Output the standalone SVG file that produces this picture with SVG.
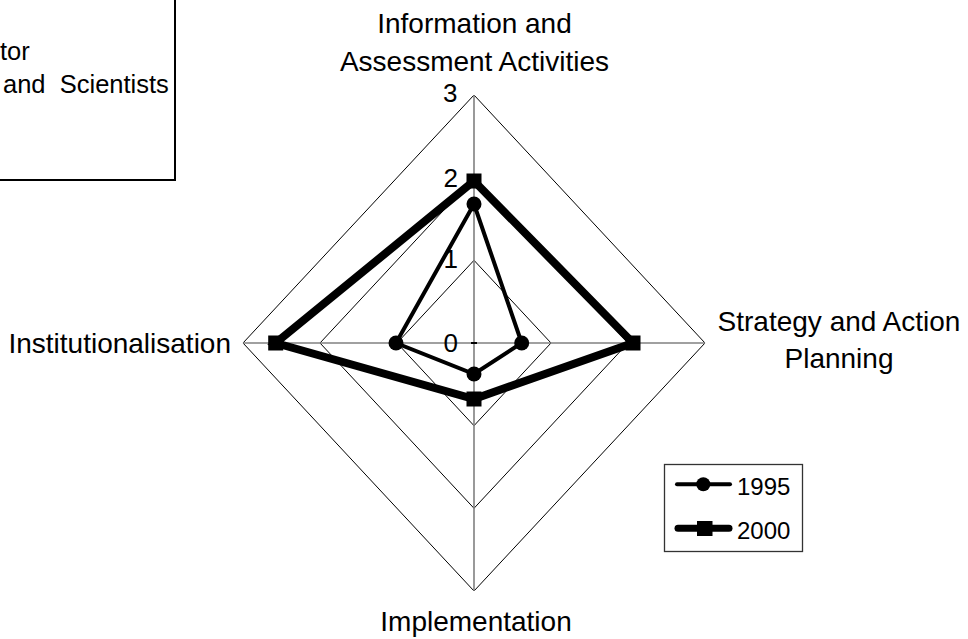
<svg xmlns="http://www.w3.org/2000/svg" width="968" height="639" viewBox="0 0 968 639">
<style>
text{font-family:"Liberation Sans",Arial,sans-serif;fill:#000}
.lbl{font-size:28px;text-anchor:middle}
.num{font-size:26px;text-anchor:end}
.ring{fill:none;stroke:#000;stroke-width:1}
.axis{stroke:#808080;stroke-width:1.6}
.s95{fill:none;stroke:#000;stroke-width:4;stroke-linejoin:miter}
.s00{fill:none;stroke:#000;stroke-width:8;stroke-linejoin:miter}
.mk{fill:#000}
</style>
<rect width="968" height="639" fill="#fff"/>
<g id="title-box">
<rect x="-10" y="-10" width="185" height="190" fill="none" stroke="#000" stroke-width="2"/>
<text x="0" y="60" style="font-size:25.5px">tor</text>
<text x="3" y="93" style="font-size:25.5px;white-space:pre" xml:space="preserve">and  Scientists</text>
</g>
<g id="grid">
<polygon class="ring" points="474,260.3 551,343 474,425.7 397,343"/>
<polygon class="ring" points="474,177.7 628,343 474,508.3 320,343"/>
<polygon class="ring" points="474,95 705,343 474,591 243,343"/>
<line class="axis" x1="474" y1="95" x2="474" y2="591"/>
<line class="axis" x1="243" y1="343" x2="705" y2="343"/>
<line x1="471" y1="343" x2="477" y2="343" stroke="#000" stroke-width="2"/>
</g>
<g id="scale">
<text class="num" x="457.5" y="102">3</text>
<text class="num" x="458" y="187">2</text>
<text class="num" x="458" y="268">1</text>
<text class="num" x="458" y="352">0</text>
</g>
<g id="axis-info"><text class="lbl" x="474.5" y="33">Information and</text><text class="lbl" x="474.5" y="71">Assessment Activities</text></g>
<g id="axis-strategy"><text class="lbl" x="839" y="331">Strategy and Action</text><text class="lbl" x="839" y="368">Planning</text></g>
<g id="axis-implementation"><text class="lbl" x="476" y="631">Implementation</text></g>
<g id="axis-institutionalisation"><text x="231" y="353" style="font-size:28px;text-anchor:end">Institutionalisation</text></g>
<g id="connectors">
<g id="series-1995">
<polygon class="s95" points="474,204 521.7,343 474,374 396,343"/>
<circle class="mk" cx="474" cy="204" r="7.5"/>
<circle class="mk" cx="521.7" cy="343" r="7.5"/>
<circle class="mk" cx="474" cy="374" r="7.5"/>
<circle class="mk" cx="396" cy="343" r="7.5"/>
</g>
<g id="series-2000">
<polygon class="s00" points="474,181 633,343 474,399 275.7,343"/>
<rect class="mk" x="466.5" y="173.5" width="15" height="15"/>
<rect class="mk" x="625.5" y="335.5" width="15" height="15"/>
<rect class="mk" x="466.5" y="391.5" width="15" height="15"/>
<rect class="mk" x="268.2" y="335.5" width="15" height="15"/>
</g>
</g>
<g id="legend">
<rect x="664.5" y="464.5" width="138" height="87" fill="#fff" stroke="#333" stroke-width="1.3"/>
<line x1="677" y1="484.3" x2="730" y2="484.3" stroke="#000" stroke-width="4" stroke-linecap="round"/>
<circle class="mk" cx="703.3" cy="484.3" r="7"/>
<text x="737" y="495" style="font-size:24px">1995</text>
<line x1="678" y1="528.3" x2="729" y2="528.3" stroke="#000" stroke-width="7" stroke-linecap="round"/>
<rect class="mk" x="697" y="521" width="15.5" height="15"/>
<text x="737" y="539" style="font-size:24px">2000</text>
</g>
</svg>
